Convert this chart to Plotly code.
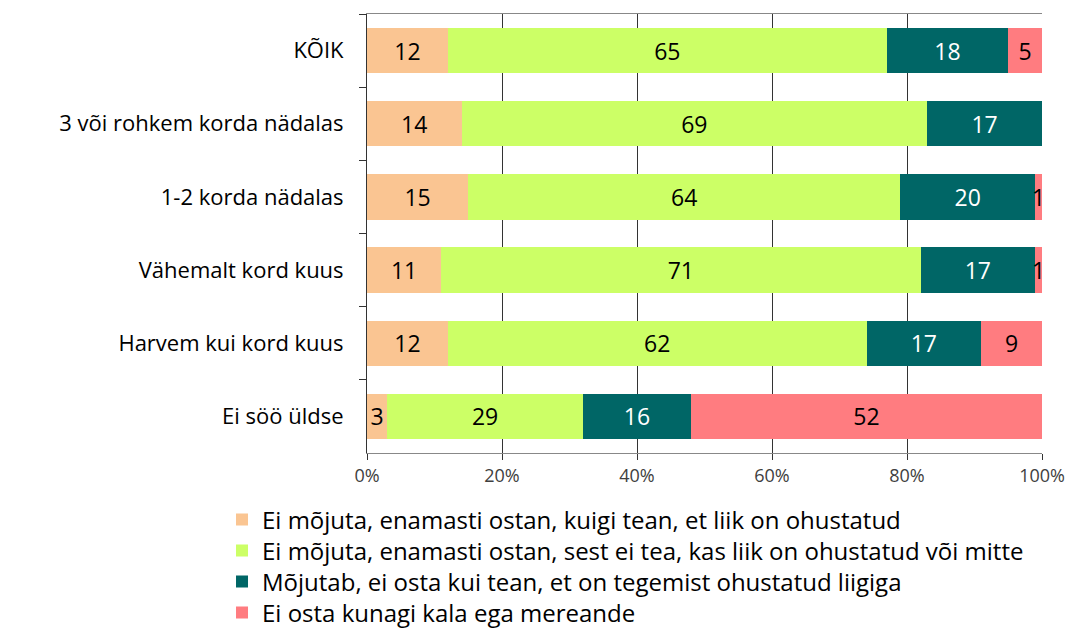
import plotly.graph_objects as go

categories = ["KÕIK", "3 või rohkem korda nädalas", "1-2 korda nädalas",
              "Vähemalt kord kuus", "Harvem kui kord kuus", "Ei söö üldse"]
series_names = [
    "Ei mõjuta, enamasti ostan, kuigi tean, et liik on ohustatud",
    "Ei mõjuta, enamasti ostan, sest ei tea, kas liik on ohustatud või mitte",
    "Mõjutab, ei osta kui tean, et on tegemist ohustatud liigiga",
    "Ei osta kunagi kala ega mereande",
]
s1 = [12, 14, 15, 11, 12, 3]
s2 = [65, 69, 64, 71, 62, 29]
s3 = [18, 17, 20, 17, 17, 16]
s4 = [5, 0, 1, 1, 9, 52]
x_ticks = [0, 20, 40, 60, 80, 100]
x_tick_labels = ["0%", "20%", "40%", "60%", "80%", "100%"]

colors = ["#FAC592", "#CCFF66", "#006666", "#FF7C80"]
text_colors = ["black", "black", "white", "black"]
FONT = "Open Sans"

legend_ids = ["legend", "legend2", "legend3", "legend4"]
legend_y = [-0.1526, -0.2232, -0.2938, -0.3645]

fig = go.Figure()
for name, vals, col, tc, lg in zip(series_names, [s1, s2, s3, s4], colors, text_colors, legend_ids):
    fig.add_trace(go.Bar(
        y=categories, x=vals, name=name, orientation="h",
        marker=dict(color=col, line=dict(width=0)),
        text=[str(v) if v > 0 else "" for v in vals],
        textposition="inside", insidetextanchor="middle",
        textangle=0, constraintext="none", cliponaxis=False,
        insidetextfont=dict(family=FONT, size=23, color=tc),
        legend=lg,
    ))

legend_common = dict(orientation="v", x=-0.2148, xanchor="left", yanchor="middle",
                     font=dict(family=FONT, size=24, color="black"),
                     itemwidth=30, bgcolor="rgba(0,0,0,0)")

fig.update_layout(
    barmode="stack", bargap=0.38,
    width=1083, height=630,
    margin=dict(l=367, r=41, t=14, b=177, autoexpand=False),
    plot_bgcolor="white", paper_bgcolor="white",
    font=dict(family=FONT, color="black"),
    showlegend=True,
    xaxis=dict(range=[0, 100], tickvals=x_ticks, ticktext=x_tick_labels,
               showgrid=True, gridcolor="#333333", gridwidth=1,
               ticks="outside", ticklen=6, tickcolor="#333333",
               showline=True, linecolor="#888888", mirror=True, linewidth=1,
               zeroline=False, automargin=False,
               tickfont=dict(family=FONT, size=18, color="#404040")),
    yaxis=dict(categoryorder="array", categoryarray=categories, autorange="reversed",
               tickson="boundaries", ticks="outside", ticklen=7, tickcolor="#333333",
               showline=True, linecolor="#333333", linewidth=1,
               showgrid=False, ticklabelstandoff=18, automargin=False,
               tickfont=dict(family=FONT, size=22, color="black")),
)
for lg, ly in zip(legend_ids, legend_y):
    fig.update_layout({lg: dict(legend_common, y=ly)})

fig.write_html("out.html", config={"displayModeBar": False},
               post_script="document.body.style.margin='0';")
